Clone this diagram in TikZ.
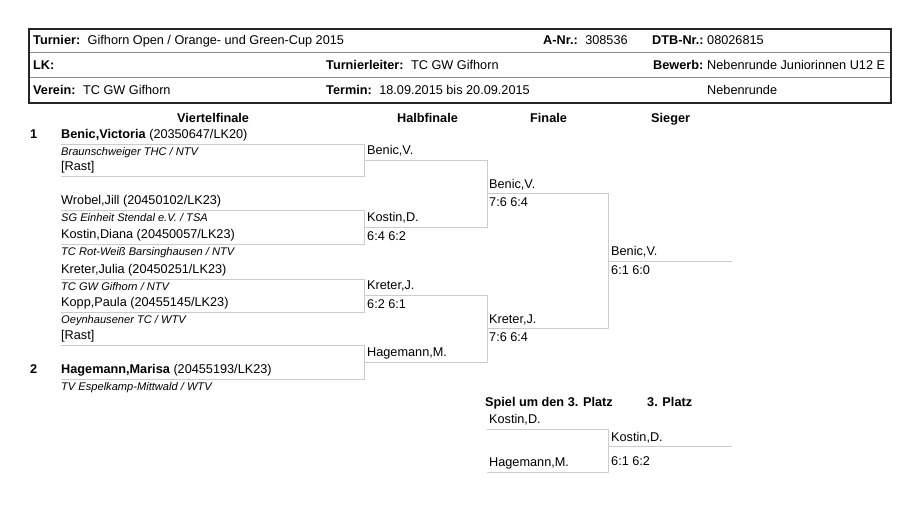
\documentclass[tikz,border=0pt]{standalone}
\usepackage{fontspec}
\setmainfont{Liberation Sans}
\usetikzlibrary{calc}
\tikzstyle{player}=[anchor=base west,inner sep=0pt,font=\fontsize{12.7}{14}\selectfont]
\tikzstyle{club}=[anchor=base west,inner sep=0pt,font=\fontsize{11.1}{12}\selectfont\itshape]
\tikzstyle{roundhead}=[anchor=base west,inner sep=0pt,font=\fontsize{12.7}{14}\selectfont\bfseries]
\tikzstyle{bracket}=[draw=black!20,line width=1pt]
\tikzstyle{frame}=[draw=black!85,line width=1.5pt]
\tikzstyle{rowline}=[draw=black!45,line width=0.8pt]

\begin{document}
\begin{tikzpicture}[x=1pt,y=-1pt]
   \useasboundingbox[fill=white] (0,0) rectangle (910,512);

   % header box
   \coordinate (frametl) at (29,29);
   \coordinate (framebr) at (891,103);
   \foreach \y/\name in {52/rowa,77/rowb}{
      \coordinate (\name-l) at (29,\y);
      \coordinate (\name-r) at (891,\y);
   }
   \draw[rowline] (rowa-l) -- (rowa-r);
   \draw[rowline] (rowb-l) -- (rowb-r);
   \draw[frame] (frametl) rectangle (framebr);

   \foreach \x/\y/\name/\label in {
      33/44.5/hturnier/{\textbf{Turnier:}\hspace{7.5pt}Gifhorn Open / Orange- und Green-Cup 2015},
      543/44.5/hanr/{\textbf{A-Nr.:}\hspace{7.5pt}308536},
      652/44.5/hdtb/{\textbf{DTB-Nr.:}},
      707/44.5/hdtbval/{08026815},
      33/69/hlk/{\textbf{LK:}},
      326/69/hleiter/{\textbf{Turnierleiter:}\hspace{7.5pt}TC GW Gifhorn},
      653/69/hbewerb/{\textbf{Bewerb:}},
      707/69/hbewerbval/{Nebenrunde Juniorinnen U12 E},
      33/94/hverein/{\textbf{Verein:}\hspace{7.5pt}TC GW Gifhorn},
      326/94/htermin/{\textbf{Termin:}\hspace{7.5pt}18.09.2015 bis 20.09.2015},
      707/94/hneben/{Nebenrunde}}
      \node[player] (\name) at (\x,\y) {\label};

   % round titles
   \foreach \x/\y/\name/\label in {177/122/tvf/Viertelfinale, 397/122/thf/Halbfinale,
      530/122/tfi/Finale, 651/122/tsi/Sieger, 485/406/tsp/{Spiel um den 3. Platz},
      647/406/tdp/{3. Platz}, 30/138.5/seeda/1, 30/373.5/seedb/2}
      \node[roundhead] (\name) at (\x,\y) {\label};

   % bracket lines
   \foreach \y/\name in {144/qa,176/qb,210/qc,244/qd,279/qe,312/qf,345/qg,379/qh}{
      \coordinate (\name-l) at (61,\y);
      \coordinate (\name-r) at (364,\y);
   }
   \foreach \y/\name in {160/ha,227/hb,295.5/hc,362/hd}{
      \coordinate (\name-l) at (364,\y);
      \coordinate (\name-r) at (487,\y);
   }
   \foreach \y/\name in {193.5/fa,328.5/fb,429/pa,472/pb}{
      \coordinate (\name-l) at (487,\y);
      \coordinate (\name-r) at (608.5,\y);
   }
   \foreach \y/\name in {261/sa,446/sb}{
      \coordinate (\name-l) at (608.5,\y);
      \coordinate (\name-r) at (732,\y);
   }
   \foreach \source/\dest in {qa/qb,qc/qd,qe/qf,qg/qh,ha/hb,hc/hd,fa/fb,pa/pb}
      \draw[bracket] (\source-l) -- (\source-r) -- (\dest-r) -- (\dest-l);
   \foreach \source in {sa,sb}
      \draw[bracket] (\source-l) -- (\source-r);

   % players
   \foreach \x/\y/\name/\label in {
      61/138.5/pbenic/{\textbf{Benic,Victoria} (20350647/LK20)},
      61/170.5/prasta/{[Rast]},
      61/204.5/pwrobel/{Wrobel,Jill (20450102/LK23)},
      61/238.5/pkostin/{Kostin,Diana (20450057/LK23)},
      61/273.5/pkreter/{Kreter,Julia (20450251/LK23)},
      61/306.5/pkopp/{Kopp,Paula (20455145/LK23)},
      61/339.5/prastb/{[Rast]},
      61/373.5/phagemann/{\textbf{Hagemann,Marisa} (20455193/LK23)},
      367/154.5/sbenic/{Benic,V.},
      367/221.5/skostin/{Kostin,D.},
      367/240/sscorea/{6:4 6:2},
      367/289.5/skreter/{Kreter,J.},
      367/308/sscoreb/{6:2 6:1},
      367/356.5/shagemann/{Hagemann,M.},
      489/188/fbenic/{Benic,V.},
      489/206.5/fscorea/{7:6 6:4},
      489/323/fkreter/{Kreter,J.},
      489/341.5/fscoreb/{7:6 6:4},
      611/255.5/wbenic/{Benic,V.},
      611/274/wscore/{6:1 6:0},
      489/423.5/dkostin/{Kostin,D.},
      489/466.5/dhagemann/{Hagemann,M.},
      611/441/dwinner/{Kostin,D.},
      611/465.5/dscore/{6:1 6:2}}
      \node[player] (\name) at (\x,\y) {\label};

   % clubs
   \foreach \x/\y/\name/\label in {
      61/155.5/cbraun/{Braunschweiger THC / NTV},
      61/221.5/cstendal/{SG Einheit Stendal e.V. / TSA},
      61/255.5/cbarsing/{TC Rot-Weiß Barsinghausen / NTV},
      61/290.5/cgifhorn/{TC GW Gifhorn / NTV},
      61/323.5/coeyn/{Oeynhausener TC / WTV},
      61/390.5/cespel/{TV Espelkamp-Mittwald / WTV}}
      \node[club] (\name) at (\x,\y) {\label};

\end{tikzpicture}
\end{document}
